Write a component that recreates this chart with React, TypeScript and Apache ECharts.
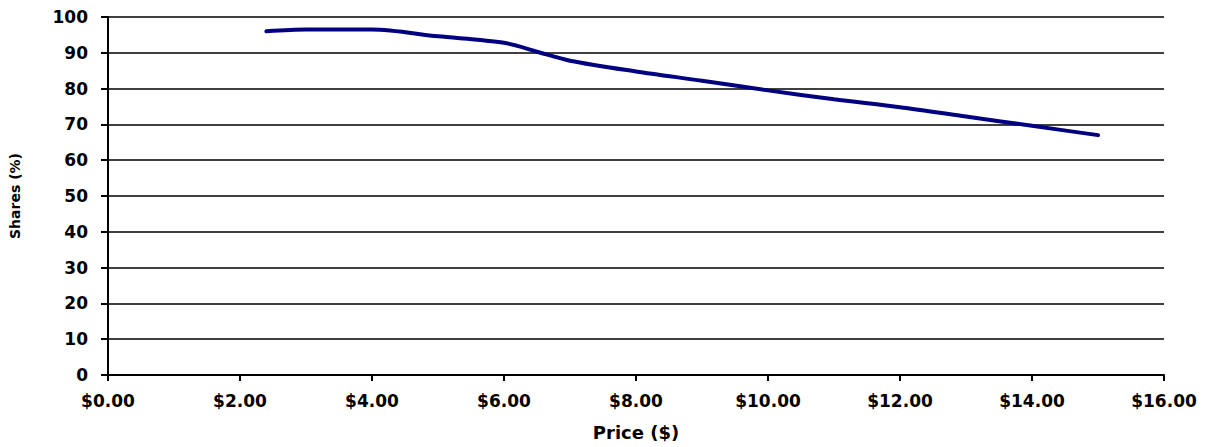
import React, { useEffect, useRef } from "react";
import * as echarts from "echarts";

const prices = [2.4, 3, 4, 5, 6, 6.5, 7, 8, 9, 10, 11, 12, 13, 14, 15];
const shares = [96, 96.5, 96.5, 94.6, 92.8, 90.3, 87.8, 84.8, 82.2, 79.5, 77, 74.8, 72.2, 69.6, 67];
const xTitle = "Price ($)";
const yTitle = "Shares (%)";

export default function App() {
  const ref = useRef<HTMLDivElement>(null);
  useEffect(() => {
    if (!ref.current) return;
    const chart = echarts.init(ref.current, null, { renderer: "svg" });
    const font = "'DejaVu Sans', Verdana, sans-serif";
    chart.setOption({
      animation: false,
      backgroundColor: "#ffffff",
      grid: { left: 104, right: 44, top: 17, bottom: 72, containLabel: false },
      xAxis: {
        type: "value",
        min: 0,
        max: 16,
        interval: 2,
        name: xTitle,
        nameLocation: "middle",
        nameGap: 48,
        nameTextStyle: { fontFamily: font, fontWeight: "bold", fontSize: 18, color: "#000" },
        axisLine: { show: true, lineStyle: { color: "#000", width: 2 } },
        axisTick: { show: true, length: 6, lineStyle: { color: "#000", width: 2 } },
        axisLabel: {
          margin: 17,
          fontFamily: font,
          fontWeight: "bold",
          fontSize: 17,
          color: "#000",
          formatter: (v: number) => "$" + v.toFixed(2),
        },
        splitLine: { show: false },
      },
      yAxis: {
        type: "value",
        min: 0,
        max: 100,
        interval: 10,
        name: yTitle,
        nameLocation: "middle",
        nameGap: 86,
        nameRotate: 90,
        nameTextStyle: { fontFamily: font, fontWeight: "bold", fontSize: 14, color: "#000" },
        axisLine: { show: true, lineStyle: { color: "#000", width: 2 } },
        axisTick: { show: true, length: 7, lineStyle: { color: "#000", width: 2 } },
        axisLabel: {
          margin: 20,
          fontFamily: font,
          fontWeight: "bold",
          fontSize: 17,
          color: "#000",
        },
        splitLine: { show: true, lineStyle: { color: "#000", width: 1.5 } },
      },
      series: [
        {
          type: "line",
          data: prices.map((p, i) => [p, shares[i]]),
          smooth: 0.3,
          symbol: "none",
          lineStyle: { color: "#000080", width: 4, cap: "round" },
        },
      ],
    });
    return () => chart.dispose();
  }, []);
  return (
    <div
      ref={ref}
      style={{ position: "fixed", left: 0, top: 0, width: 1208, height: 447, background: "#fff" }}
    />
  );
}
